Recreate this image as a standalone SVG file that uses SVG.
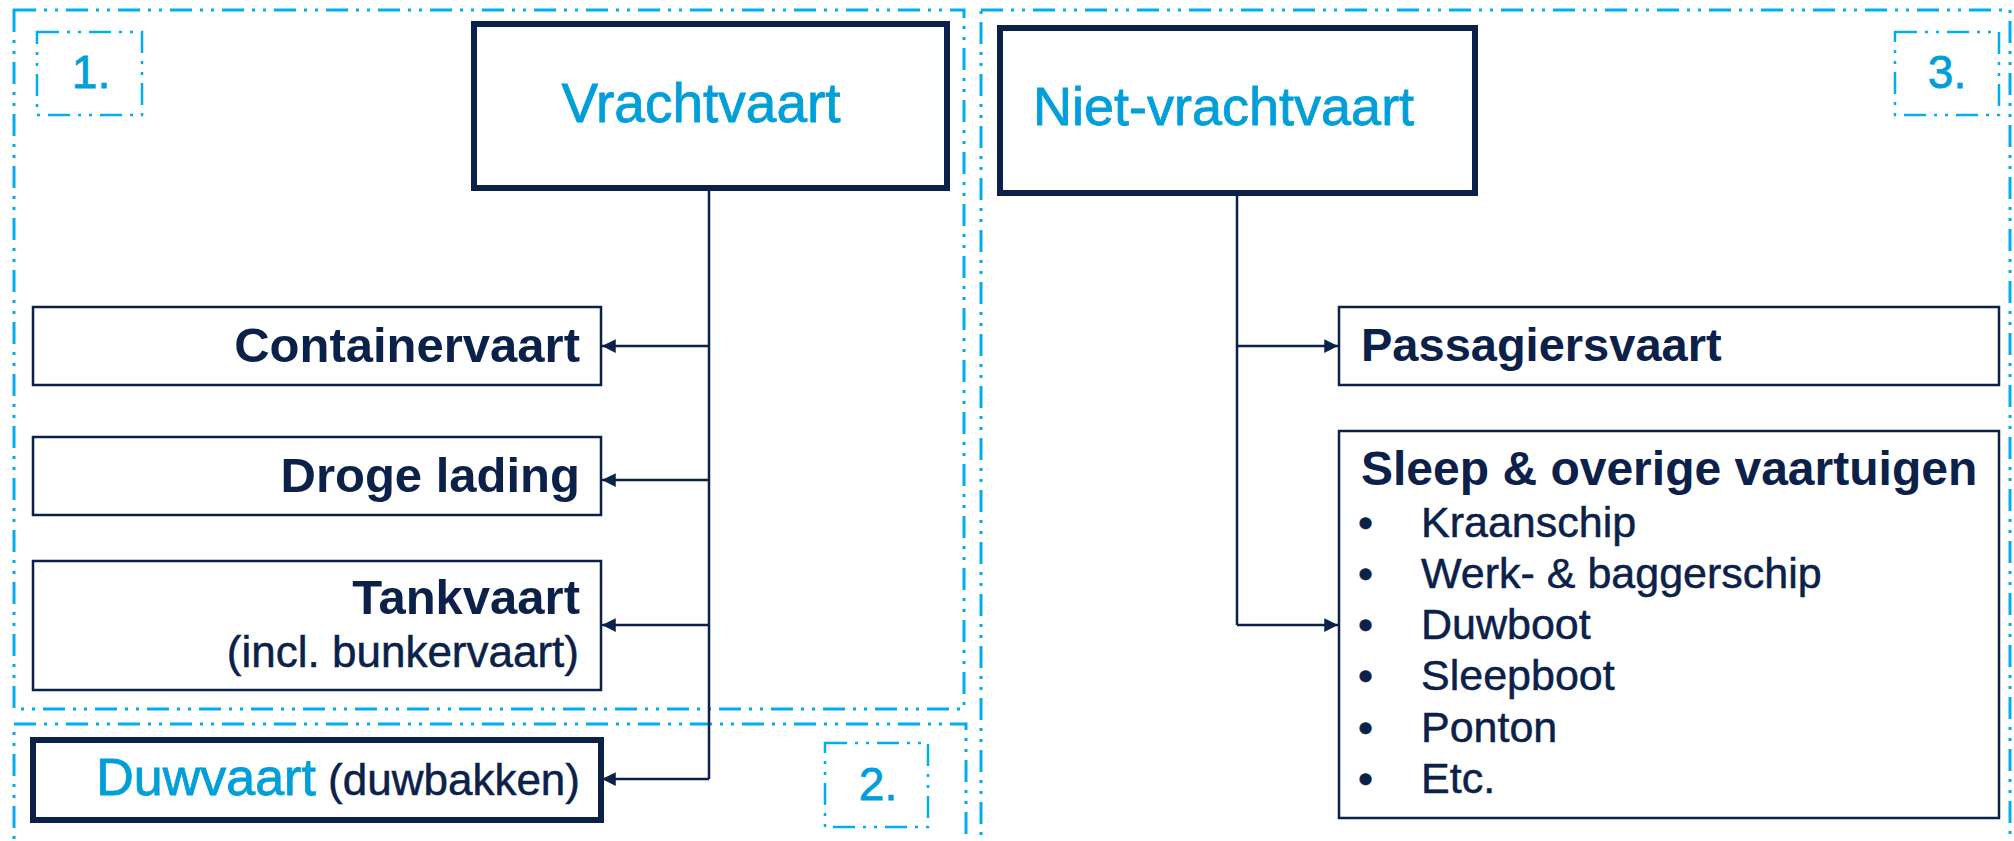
<svg xmlns="http://www.w3.org/2000/svg" width="2014" height="841" viewBox="0 0 2014 841">
<defs>
<style>
.zone{fill:none;stroke:#00aeef;stroke-width:3;stroke-dasharray:22 8 3 8 3 8}
.tag{fill:none;stroke:#00aeef;stroke-width:2.5;stroke-dasharray:22 8 3 8 3 8}
.box{fill:#fff;stroke:#0b2149;stroke-width:2.5}
.main{fill:#fff;stroke:#0b2149;stroke-width:6}
.blue{fill:#009fd9;stroke:#009fd9;stroke-width:0.8;font-family:"Liberation Sans",Arial,sans-serif}
.dark{fill:#0b2149;font-family:"Liberation Sans",Arial,sans-serif}
.reg{stroke:#0b2149;stroke-width:0.5}
.b{font-weight:bold}
.conn{fill:none;stroke:#0b2149;stroke-width:2.5}
</style>
<marker id="arr" viewBox="0 0 10 10" refX="10" refY="5" markerWidth="5.5" markerHeight="5.5" markerUnits="strokeWidth" orient="auto">
<path d="M0,0 L10,5 L0,10 z" fill="#0b2149"/>
</marker>
</defs>
<rect width="2014" height="841" fill="#fff"/>
<g id="zones">
<rect class="zone" x="14" y="10" width="950" height="699"/>
<rect class="zone" x="14" y="724" width="952" height="140"/>
<rect class="zone" x="981" y="10" width="1029" height="860"/>
</g>
<g id="tag1"><rect class="tag" x="37" y="32" width="105" height="83"/><text class="blue" x="91" y="88" font-size="46" text-anchor="middle">1.</text></g>
<g id="tag2"><rect class="tag" x="825" y="743" width="103" height="84"/><text class="blue" x="878" y="800" font-size="46" text-anchor="middle">2.</text></g>
<g id="tag3"><rect class="tag" x="1895" y="32" width="104" height="83"/><text class="blue" x="1947" y="88" font-size="46" text-anchor="middle">3.</text></g>
<g id="connectors">
<path class="conn" d="M709,188 V779"/>
<path class="conn" d="M709,346 H602" marker-end="url(#arr)"/>
<path class="conn" d="M709,480 H602" marker-end="url(#arr)"/>
<path class="conn" d="M709,625 H602" marker-end="url(#arr)"/>
<path class="conn" d="M709,779 H602" marker-end="url(#arr)"/>
<path class="conn" d="M1237,193 V625"/>
<path class="conn" d="M1237,346 H1338" marker-end="url(#arr)"/>
<path class="conn" d="M1237,625 H1338" marker-end="url(#arr)"/>
</g>
<g id="vrachtvaart"><rect class="main" x="474" y="24" width="473" height="164"/><text class="blue" x="701" y="122" font-size="55" text-anchor="middle">Vrachtvaart</text></g>
<g id="containervaart"><rect class="box" x="33" y="307" width="568" height="78"/><text class="dark b" x="580" y="362" font-size="49" text-anchor="end">Containervaart</text></g>
<g id="droge-lading"><rect class="box" x="33" y="437" width="568" height="78"/><text class="dark b" x="580" y="492" font-size="49" text-anchor="end">Droge lading</text></g>
<g id="tankvaart"><rect class="box" x="33" y="561" width="568" height="129"/><text class="dark b" x="580" y="614" font-size="49" text-anchor="end">Tankvaart</text><text class="dark reg" x="579" y="667" font-size="44" text-anchor="end">(incl. bunkervaart)</text></g>
<g id="duwvaart"><rect class="main" x="33" y="740" width="568" height="80"/><text x="580" y="795" text-anchor="end"><tspan class="blue" font-size="52">Duwvaart</tspan><tspan class="dark reg" font-size="44"> (duwbakken)</tspan></text></g>
<g id="niet-vrachtvaart"><rect class="main" x="1000" y="28" width="475" height="165"/><text class="blue" x="1033" y="125" font-size="54">Niet-vrachtvaart</text></g>
<g id="passagiersvaart"><rect class="box" x="1339" y="307" width="660" height="78"/><text class="dark b" x="1361" y="361" font-size="47">Passagiersvaart</text></g>
<g id="sleep"><rect class="box" x="1339" y="431" width="660" height="387"/>
<text class="dark b" x="1361" y="485" font-size="48">Sleep &amp; overige vaartuigen</text>
<g class="dark reg" font-size="43">
<text x="1358" y="537">•</text><text x="1421" y="537">Kraanschip</text>
<text x="1358" y="588">•</text><text x="1421" y="588">Werk- &amp; baggerschip</text>
<text x="1358" y="639">•</text><text x="1421" y="639">Duwboot</text>
<text x="1358" y="690">•</text><text x="1421" y="690">Sleepboot</text>
<text x="1358" y="742">•</text><text x="1421" y="742">Ponton</text>
<text x="1358" y="793">•</text><text x="1421" y="793">Etc.</text>
</g>
</g>
</svg>
